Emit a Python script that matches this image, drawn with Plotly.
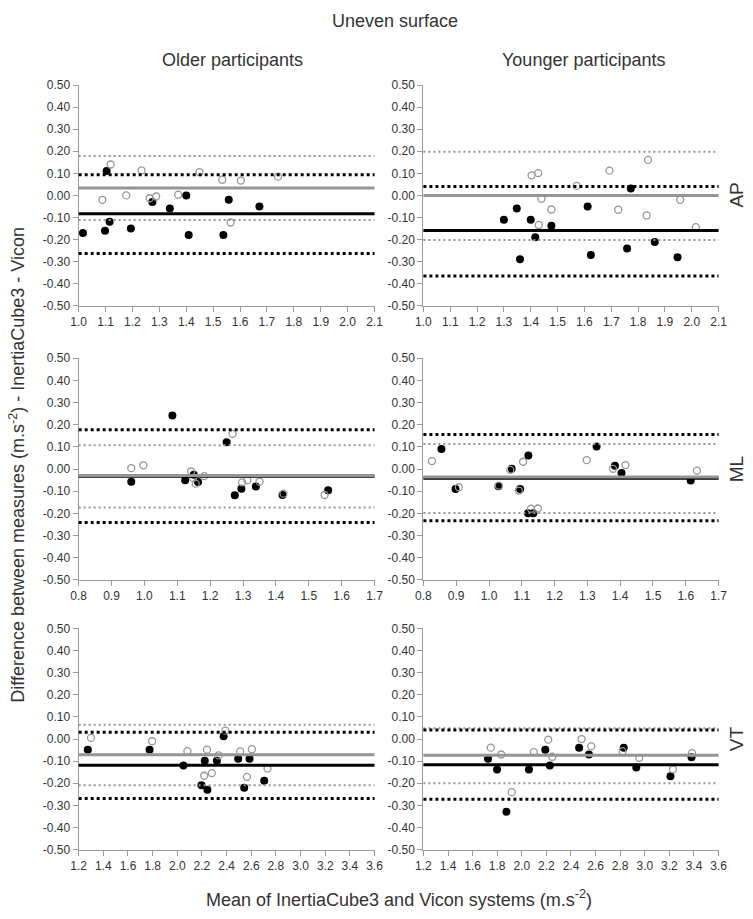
import plotly.graph_objects as go

W, H = 753, 919

# ---------------- data ----------------
# AP, older participants
ap_old_bx = [1.016, 1.098, 1.104, 1.115, 1.194, 1.274, 1.339, 1.400, 1.409, 1.538, 1.558, 1.672]
ap_old_by = [-0.17, -0.16, 0.11, -0.12, -0.15, -0.03, -0.06, 0.00, -0.18, -0.18, -0.02, -0.05]
ap_old_gx = [1.088, 1.119, 1.177, 1.234, 1.264, 1.288, 1.370, 1.449, 1.534, 1.565, 1.603, 1.741]
ap_old_gy = [-0.02, 0.14, 0.00, 0.113, -0.013, -0.005, 0.003, 0.105, 0.071, -0.123, 0.067, 0.085]
ap_old_lines = {"b_mean": -0.083, "b_lo": -0.263, "b_hi": 0.094,
                "g_mean": 0.034, "g_lo": -0.112, "g_hi": 0.179}

# AP, younger participants
ap_yng_bx = [1.300, 1.348, 1.360, 1.400, 1.417, 1.477, 1.612, 1.624, 1.759, 1.773, 1.862, 1.947]
ap_yng_by = [-0.11, -0.06, -0.29, -0.11, -0.19, -0.138, -0.05, -0.27, -0.241, 0.031, -0.211, -0.28]
ap_yng_gx = [1.403, 1.428, 1.440, 1.430, 1.477, 1.571, 1.693, 1.726, 1.832, 1.837, 1.957, 2.015]
ap_yng_gy = [0.091, 0.101, -0.015, -0.134, -0.064, 0.043, 0.112, -0.065, -0.091, 0.161, -0.02, -0.144]
ap_yng_lines = {"b_mean": -0.159, "b_lo": -0.365, "b_hi": 0.040,
                "g_mean": -0.001, "g_lo": -0.202, "g_hi": 0.198}

# ML, older participants
ml_old_bx = [0.960, 1.085, 1.124, 1.150, 1.163, 1.250, 1.275, 1.295, 1.339, 1.420, 1.559]
ml_old_by = [-0.057, 0.242, -0.05, -0.026, -0.058, 0.121, -0.118, -0.089, -0.079, -0.117, -0.096]
ml_old_gx = [0.960, 0.997, 1.142, 1.148, 1.156, 1.182, 1.268, 1.297, 1.313, 1.350, 1.423, 1.548]
ml_old_gy = [0.004, 0.017, -0.011, -0.04, -0.066, -0.032, 0.159, -0.06, -0.05, -0.057, -0.111, -0.117]
ml_old_lines = {"b_mean": -0.032, "b_lo": -0.241, "b_hi": 0.177,
                "g_mean": -0.029, "g_lo": -0.173, "g_hi": 0.107}

# ML, younger participants
ml_yng_bx = [0.855, 0.898, 1.029, 1.069, 1.095, 1.120, 1.119, 1.135, 1.328, 1.384, 1.404, 1.615]
ml_yng_by = [0.091, -0.09, -0.078, 0.001, -0.09, 0.061, -0.20, -0.20, 0.102, 0.015, -0.018, -0.052]
ml_yng_gx = [0.826, 0.908, 1.030, 1.065, 1.091, 1.104, 1.128, 1.149, 1.298, 1.378, 1.416, 1.634]
ml_yng_gy = [0.036, -0.082, -0.075, -0.004, -0.097, 0.033, -0.179, -0.178, 0.04, 0.001, 0.018, -0.007]
ml_yng_lines = {"b_mean": -0.041, "b_lo": -0.233, "b_hi": 0.156,
                "g_mean": -0.036, "g_lo": -0.198, "g_hi": 0.113}

# VT, older participants
vt_old_bx = [1.274, 1.775, 2.050, 2.196, 2.223, 2.244, 2.321, 2.376, 2.494, 2.543, 2.586, 2.705]
vt_old_by = [-0.049, -0.049, -0.12, -0.209, -0.098, -0.229, -0.098, 0.012, -0.089, -0.22, -0.089, -0.189]
vt_old_gx = [1.300, 1.796, 2.082, 2.218, 2.241, 2.280, 2.335, 2.390, 2.510, 2.565, 2.605, 2.732]
vt_old_gy = [0.005, -0.01, -0.055, -0.166, -0.048, -0.154, -0.074, 0.038, -0.056, -0.171, -0.046, -0.133]
vt_old_lines = {"b_mean": -0.119, "b_lo": -0.269, "b_hi": 0.031,
                "g_mean": -0.071, "g_lo": -0.209, "g_hi": 0.064}

# VT, younger participants
vt_yng_bx = [1.725, 1.799, 1.875, 2.058, 2.191, 2.228, 2.466, 2.546, 2.829, 2.931, 3.209, 3.380]
vt_yng_by = [-0.089, -0.138, -0.329, -0.138, -0.048, -0.12, -0.039, -0.07, -0.039, -0.129, -0.168, -0.082]
vt_yng_gx = [1.748, 1.833, 1.918, 2.098, 2.215, 2.248, 2.486, 2.565, 2.819, 2.955, 3.229, 3.384]
vt_yng_gy = [-0.039, -0.07, -0.24, -0.059, -0.003, -0.08, 0.0, -0.033, -0.055, -0.085, -0.137, -0.064]
vt_yng_lines = {"b_mean": -0.116, "b_lo": -0.272, "b_hi": 0.041,
                "g_mean": -0.073, "g_lo": -0.200, "g_hi": 0.049}

# axes
y_ticks = [0.5, 0.4, 0.3, 0.2, 0.1, 0.0, -0.1, -0.2, -0.3, -0.4, -0.5]
y_ticktext = ["0.50", "0.40", "0.30", "0.20", "0.10", "0.00", "-0.10", "-0.20", "-0.30", "-0.40", "-0.50"]
x_ticks_ap = [1.0, 1.1, 1.2, 1.3, 1.4, 1.5, 1.6, 1.7, 1.8, 1.9, 2.0, 2.1]
x_ticks_ml = [0.8, 0.9, 1.0, 1.1, 1.2, 1.3, 1.4, 1.5, 1.6, 1.7]
x_ticks_vt = [1.2, 1.4, 1.6, 1.8, 2.0, 2.2, 2.4, 2.6, 2.8, 3.0, 3.2, 3.4, 3.6]

title_text = "Uneven surface"
col_titles = ["Older participants", "Younger participants"]
row_labels = ["AP", "ML", "VT"]
y_title = "Difference between measures (m.s<sup>-2</sup>) - InertiaCube3 - Vicon"
x_title = "Mean of InertiaCube3 and Vicon systems (m.s<sup>-2</sup>)"

# ---------------- layout geometry (pixels) ----------------
col_px = [(72.3, 375.0), (425.0, 727.0)]
row_px = [(79.3, 303.3), (356.7, 581.7), (631.0, 855.7)]

panels = [
    (0, 0, ap_old_bx, ap_old_by, ap_old_gx, ap_old_gy, ap_old_lines, x_ticks_ap),
    (0, 1, ap_yng_bx, ap_yng_by, ap_yng_gx, ap_yng_gy, ap_yng_lines, x_ticks_ap),
    (1, 0, ml_old_bx, ml_old_by, ml_old_gx, ml_old_gy, ml_old_lines, x_ticks_ml),
    (1, 1, ml_yng_bx, ml_yng_by, ml_yng_gx, ml_yng_gy, ml_yng_lines, x_ticks_ml),
    (2, 0, vt_old_bx, vt_old_by, vt_old_gx, vt_old_gy, vt_old_lines, x_ticks_vt),
    (2, 1, vt_yng_bx, vt_yng_by, vt_yng_gx, vt_yng_gy, vt_yng_lines, x_ticks_vt),
]

FONT = "Liberation Sans, Arial, sans-serif"
AX_COLOR = "#9a9a9a"
TXT = "#333333"
GRAY = "#959595"

fig = go.Figure()
layout = dict(
    width=W, height=H,
    margin=dict(l=0, r=0, t=0, b=0),
    paper_bgcolor="white", plot_bgcolor="white",
    showlegend=False,
    font=dict(family=FONT, color=TXT, size=12),
)
shapes = []
annotations = []

for i, (r, c, bx, by, gx, gy, lines, xt) in enumerate(panels):
    n = i + 1
    xa = "x" if n == 1 else f"x{n}"
    ya = "y" if n == 1 else f"y{n}"
    xl = "xaxis" if n == 1 else f"xaxis{n}"
    yl = "yaxis" if n == 1 else f"yaxis{n}"
    x0, x1 = col_px[c]
    y0, y1 = row_px[r]
    layout[xl] = dict(
        domain=[x0 / W, x1 / W], anchor=ya, range=[xt[0], xt[-1]],
        tickvals=xt, ticktext=[f"{v:.1f}" for v in xt],
        showgrid=False, zeroline=False, showline=True, linecolor=AX_COLOR, linewidth=1.3,
        ticks="outside", ticklen=5, tickcolor=AX_COLOR, tickwidth=1.2,
        tickfont=dict(family=FONT, size=12, color=TXT),
    )
    layout[yl] = dict(
        domain=[1 - y1 / H, 1 - y0 / H], anchor=xa, range=[-0.5, 0.5],
        tickvals=y_ticks, ticktext=y_ticktext,
        showgrid=False, zeroline=False, showline=True, linecolor=AX_COLOR, linewidth=1.3,
        ticks="outside", ticklen=5, tickcolor=AX_COLOR, tickwidth=1.2,
        tickfont=dict(family=FONT, size=12, color=TXT),
    )
    fig.add_trace(go.Scatter(
        x=bx, y=by, mode="markers", xaxis=xa, yaxis=ya,
        marker=dict(symbol="circle", size=8, color="black", line=dict(width=0)),
    ))
    fig.add_trace(go.Scatter(
        x=gx, y=gy, mode="markers", xaxis=xa, yaxis=ya,
        marker=dict(symbol="circle-open", size=7, color=GRAY, line=dict(width=1.3, color=GRAY)),
    ))
    dref = f"{xa} domain"
    line_specs = [
        ("g_hi", dict(color=GRAY, width=2, dash="2px,3px")),
        ("g_lo", dict(color=GRAY, width=2, dash="2px,3px")),
        ("b_hi", dict(color="black", width=3, dash="3px,3px")),
        ("b_lo", dict(color="black", width=3, dash="3px,3px")),
        ("b_mean", dict(color="black", width=3)),
        ("g_mean", dict(color=GRAY, width=3)),
    ]
    for key, st in line_specs:
        shapes.append(dict(type="line", xref=dref, yref=ya, x0=0, x1=1,
                           y0=lines[key], y1=lines[key], line=st, layer="above"))
    if c == 1:
        annotations.append(dict(
            text=row_labels[r], xref="paper", yref=ya, x=745 / W, y=0.0,
            xanchor="center", yanchor="middle", showarrow=False, textangle=-90,
            font=dict(family=FONT, size=19, color=TXT)))

annotations.append(dict(text=title_text, xref="paper", yref="paper", x=396 / W, y=1 - 14 / H,
                        xanchor="center", yanchor="middle", showarrow=False,
                        font=dict(family=FONT, size=18, color=TXT)))
annotations.append(dict(text=col_titles[0], xref="paper", yref="paper", x=230 / W, y=1 - 54 / H,
                        xanchor="center", yanchor="middle", showarrow=False,
                        font=dict(family=FONT, size=18, color=TXT)))
annotations.append(dict(text=col_titles[1], xref="paper", yref="paper", x=589 / W, y=1 - 54 / H,
                        xanchor="center", yanchor="middle", showarrow=False,
                        font=dict(family=FONT, size=18, color=TXT)))
annotations.append(dict(text=y_title, xref="paper", yref="paper", x=10 / W, y=1 - 465 / H,
                        xanchor="center", yanchor="middle", showarrow=False, textangle=-90,
                        font=dict(family=FONT, size=18, color=TXT)))
annotations.append(dict(text=x_title, xref="paper", yref="paper", x=400 / W, y=1 - 905 / H,
                        xanchor="center", yanchor="middle", showarrow=False,
                        font=dict(family=FONT, size=18, color=TXT)))

layout["shapes"] = shapes
layout["annotations"] = annotations
fig.update_layout(**layout)

fig.write_html("out.html", config={"displayModeBar": False},
               post_script="document.body.style.margin='0px';")
